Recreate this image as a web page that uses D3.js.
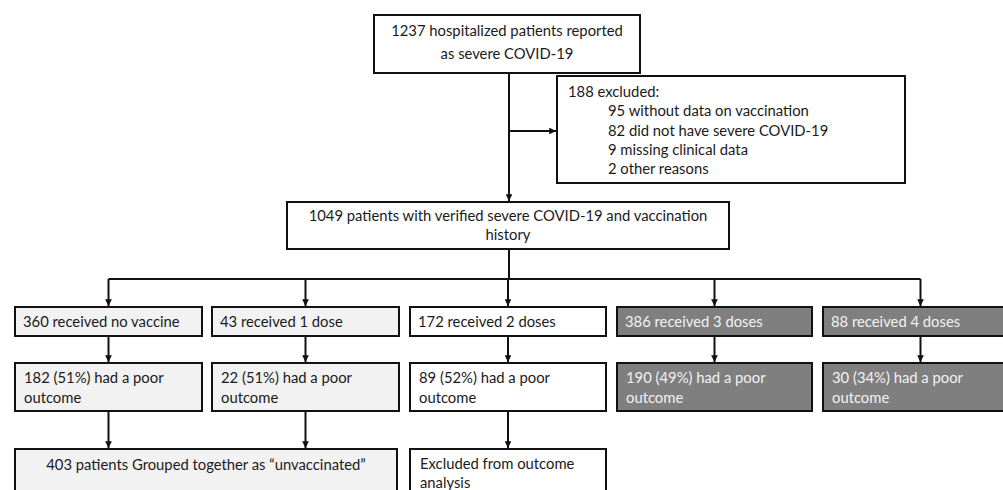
<!DOCTYPE html>
<html>
<head>
<meta charset="utf-8">
<script src="https://cdn.jsdelivr.net/npm/d3@7"></script>
<style>
  html, body { margin: 0; padding: 0; background: #fff; }
  svg { display: block; }
  text { font-family: Lato, "Liberation Sans", sans-serif; font-size: 14.8px; fill: #1a1a1a; }
</style>
</head>
<body>
<svg id="chart" width="1003" height="490"></svg>
<script>
// ---- data ----
const totalReported = 1237;
const topLines = [`${totalReported} hospitalized patients reported`, 'as severe COVID-19'];

const excludedTotal = 188;
const exclusionCounts = [95, 82, 9, 2];
const exclusionReasons = ['without data on vaccination', 'did not have severe COVID-19', 'missing clinical data', 'other reasons'];

const verifiedTotal = 1049;
const verifiedLines = [`${verifiedTotal} patients with verified severe COVID-19 and vaccination`, 'history'];

const groups = ['received no vaccine', 'received 1 dose', 'received 2 doses', 'received 3 doses', 'received 4 doses'];
const groupCounts = [360, 43, 172, 386, 88];
const poorCounts = [182, 22, 89, 190, 30];
const poorPct = [51, 51, 52, 49, 34];
const groupShade = ['light', 'light', 'white', 'dark', 'dark'];

const unvaccinatedTotal = 403;
const unvaccinatedText = `${unvaccinatedTotal} patients Grouped together as \u201cunvaccinated\u201d`;
const excludedOutcomeLines = ['Excluded from outcome', 'analysis'];

// ---- layout ----
const fills = { light: '#f2f2f2', white: '#ffffff', dark: '#7f7f7f' };
const textFills = { light: '#1a1a1a', white: '#1a1a1a', dark: '#f2f2f2' };

const svg = d3.select('#chart');

svg.append('defs').append('marker')
    .attr('id', 'arrow')
    .attr('viewBox', '0 -5 10 10')
    .attr('refX', 10)
    .attr('refY', 0)
    .attr('markerWidth', 3.4)
    .attr('markerHeight', 3.4)
    .attr('markerUnits', 'strokeWidth')
    .attr('orient', 'auto')
    .append('path')
    .attr('d', 'M0,-5L10,0L0,5Z')
    .attr('fill', '#111');

// column positions for the dose groups
const colLeft = d3.scaleOrdinal().domain(groups).range([15, 212, 410, 617, 823]);
const colWidth = d3.scaleOrdinal().domain(groups).range([187, 187, 196, 195, 195]);
const colCenter = g => colLeft(g) + colWidth(g) / 2;

const links = svg.append('g');
const boxes = svg.append('g');

function box(x, y, w, h, shade) {
    boxes.append('rect')
        .attr('x', x).attr('y', y)
        .attr('width', w).attr('height', h)
        .attr('fill', fills[shade])
        .attr('stroke', '#111')
        .attr('stroke-width', 2);
}

function lines(arr, x, y0, dy, anchor, shade) {
    const t = boxes.append('text')
        .attr('text-anchor', anchor)
        .style('fill', textFills[shade || 'white']);
    arr.forEach((s, i) => {
        t.append('tspan')
            .attr('x', typeof x === 'function' ? x(i) : x)
            .attr('y', y0 + i * dy)
            .attr('dy', '0.35em')
            .text(s);
    });
}

function arrow(pts) {
    links.append('path')
        .attr('d', d3.line()(pts))
        .attr('fill', 'none')
        .attr('stroke', '#111')
        .attr('stroke-width', 2)
        .attr('marker-end', 'url(#arrow)');
}

function line(pts) {
    links.append('path')
        .attr('d', d3.line()(pts))
        .attr('fill', 'none')
        .attr('stroke', '#111')
        .attr('stroke-width', 2);
}

const mainX = 509;

// top box
box(374, 15, 266, 58, 'white');
lines(topLines, 507, 31, 23, 'middle');

// trunk to verified box
arrow([[mainX, 73], [mainX, 201]]);
// branch to exclusions
arrow([[mainX, 131], [556, 131]]);

// exclusion box
box(557, 76, 348, 107, 'white');
const exclLines = [`${excludedTotal} excluded:`].concat(exclusionCounts.map((c, i) => `${c} ${exclusionReasons[i]}`));
lines(exclLines, i => i === 0 ? 568 : 608, 92, 19.3, 'start');

// verified box
box(287, 202, 442, 47, 'white');
lines(verifiedLines, 508, 216, 19, 'middle');

// split to groups
const splitY = 279;
const row1Y = 307, row1H = 29;
const row2Y = 363, row2H = 48;
const row3Y = 449;

line([[mainX, 249], [mainX, splitY]]);
line([[colCenter(groups[0]), splitY], [colCenter(groups[4]), splitY]]);

groups.forEach((g, i) => {
    const cx = colCenter(g);
    arrow([[cx, splitY], [cx, row1Y - 1]]);
    box(colLeft(g), row1Y, colWidth(g), row1H, groupShade[i]);
    lines([`${groupCounts[i]} ${g}`], colLeft(g) + 8, 322, 0, 'start', groupShade[i]);

    arrow([[cx, row1Y + row1H], [cx, row2Y - 1]]);
    box(colLeft(g), row2Y, colWidth(g), row2H, groupShade[i]);
    lines([`${poorCounts[i]} (${poorPct[i]}%) had a poor`, 'outcome'], colLeft(g) + 9, 378, 20, 'start', groupShade[i]);

    if (i < 3) arrow([[cx, row2Y + row2H], [cx, row3Y - 1]]);
});

// bottom row
const unvLeft = colLeft(groups[0]);
const unvRight = colLeft(groups[1]) + colWidth(groups[1]) - 2;
box(unvLeft, row3Y, unvRight - unvLeft, 70, 'light');
lines([unvaccinatedText], (unvLeft + unvRight) / 2, 465, 0, 'middle', 'light');

box(colLeft(groups[2]), row3Y, colWidth(groups[2]), 70, 'white');
lines(excludedOutcomeLines, colLeft(groups[2]) + 10, 464, 18.5, 'start');
</script>
</body>
</html>
